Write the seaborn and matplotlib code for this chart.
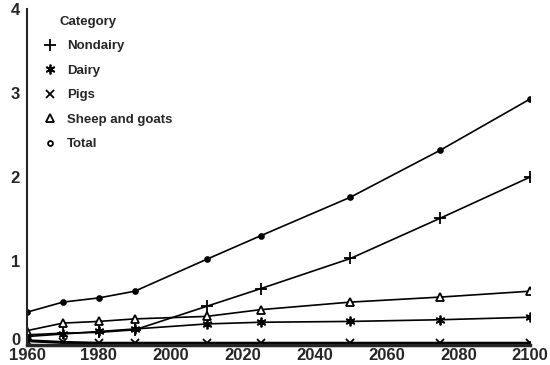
import matplotlib
matplotlib.use("Agg")
import matplotlib.pyplot as plt
import matplotlib.transforms as mtransforms
import numpy as np
import pandas as pd
import seaborn as sns

years = [1960, 1970, 1980, 1990, 2010, 2025, 2050, 2075, 2100]
categories = ["Nondairy", "Dairy", "Pigs", "Sheep and goats", "Total"]

nondairy = [0.12, 0.14, 0.15, 0.18, 0.46, 0.67, 1.03, 1.51, 2.00]
dairy = [0.10, 0.13, 0.16, 0.19, 0.25, 0.27, 0.28, 0.30, 0.33]
pigs = [0.05, 0.03, 0.02, 0.02, 0.02, 0.02, 0.02, 0.02, 0.02]
sheep_goats = [0.17, 0.26, 0.28, 0.31, 0.34, 0.42, 0.51, 0.57, 0.64]
total = [0.39, 0.51, 0.56, 0.64, 1.02, 1.30, 1.76, 2.32, 2.93]

series = [nondairy, dairy, pigs, sheep_goats, total]
df = pd.DataFrame({
    "Year": years * len(categories),
    "Value": np.concatenate(series),
    "Category": np.repeat(categories, len(years)),
})

sns.set_style("white")
plt.rcParams["font.family"] = ["Liberation Sans", "DejaVu Sans"]
plt.rcParams["font.weight"] = "bold"

fig = plt.figure(figsize=(5.5, 3.65), dpi=100)
ax = fig.add_axes([0.049, 0.055, 0.915, 0.92])

markers = {"Nondairy": "+", "Dairy": (6, 2, 0), "Pigs": "x",
           "Sheep and goats": "^", "Total": "o"}
sizes = {"Nondairy": 8, "Dairy": 7, "Pigs": 6, "Sheep and goats": 6, "Total": 3.5}

# one lineplot per category, since filled and line-art markers can't be mixed
for cat in categories:
    sub = df[df["Category"] == cat]
    fc = "white" if cat == "Sheep and goats" else "black"
    lw = 2.2 if cat == "Pigs" else 1.2
    sns.lineplot(data=sub, x="Year", y="Value", color="black", linewidth=lw,
                 marker=markers[cat], markersize=sizes[cat],
                 markerfacecolor=fc, markeredgecolor="black",
                 markeredgewidth=1.3, ax=ax, label=cat, legend=False)

# legend (title drawn separately so it can sit indented like the original)
handles = []
for cat in categories:
    fc = "white" if cat in ("Sheep and goats", "Total") else "black"
    h, = ax.plot([], [], linestyle="none", marker=markers[cat], color="black",
                 markerfacecolor=fc, markersize=sizes[cat], markeredgewidth=1.3)
    handles.append(h)
leg = ax.legend(handles, categories, loc="upper left",
                bbox_to_anchor=(-0.005, 0.943), frameon=False, fontsize=9.5,
                handletextpad=0.3, labelspacing=0.93)
ax.text(0.064, 0.961, "Category", transform=ax.transAxes, fontsize=9.5,
        fontweight="bold", ha="left", va="center")

ax.set_xlim(1960, 2100)
ax.set_ylim(0, 4)
ax.set_xticks(range(1960, 2101, 20))
ax.set_yticks([0, 1, 2, 3, 4])
ax.set_xlabel("")
ax.set_ylabel("")
for s in ["top", "right"]:
    ax.spines[s].set_visible(False)
ax.spines["left"].set_linewidth(1.5)
ax.spines["bottom"].set_linewidth(2.5)
ax.tick_params(axis="both", which="both", direction="out", length=4,
               width=1.2, labelsize=12, pad=1)
ax.tick_params(axis="x", length=0, pad=2)
for lab in ax.get_xticklabels() + ax.get_yticklabels():
    lab.set_fontweight("bold")

# lift the "0" label a little, as in the original
zero = ax.get_yticklabels()[0]
zero.set_transform(zero.get_transform() +
                   mtransforms.ScaledTranslation(0, 4 / 72, fig.dpi_scale_trans))

fig.savefig("out.png", dpi=100)
